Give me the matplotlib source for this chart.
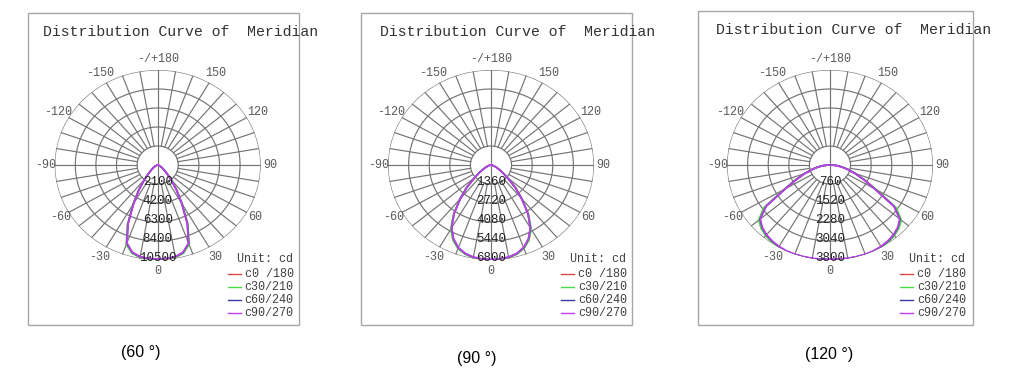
import numpy as np
import matplotlib.pyplot as plt
from matplotlib.patches import Rectangle

# vertical angle (deg from nadir), same for every C-plane
gamma = [0, 5, 10, 15, 20, 25, 30, 35, 40, 45, 50, 55, 60, 65, 70, 75, 80, 85, 90]

# 60 deg beam, cd
c0_60 = [10450, 10430, 10360, 10080, 9320, 7250, 5000, 3380, 2150, 1320, 860, 560, 370, 240, 150, 90, 50, 20, 0]
c30_60 = [10450, 10430, 10370, 10100, 9350, 7300, 5050, 3400, 2160, 1320, 860, 560, 370, 240, 150, 90, 50, 20, 0]
c60_60 = [10400, 10380, 10300, 10000, 9200, 7150, 4900, 3300, 2100, 1300, 850, 550, 360, 230, 140, 85, 45, 20, 0]
c90_60 = [10380, 10360, 10290, 9980, 9180, 7120, 4880, 3280, 2090, 1290, 840, 550, 360, 230, 140, 85, 45, 20, 0]

# 90 deg beam, cd
c0_90 = [6800, 6790, 6730, 6600, 6350, 5920, 5280, 4300, 3200, 2280, 1420, 920, 590, 380, 240, 140, 75, 30, 0]
c30_90 = [6800, 6790, 6730, 6600, 6360, 5930, 5300, 4320, 3200, 2280, 1420, 920, 590, 380, 240, 140, 75, 30, 0]
c60_90 = [6770, 6760, 6700, 6560, 6300, 5850, 5200, 4250, 3150, 2250, 1400, 900, 580, 370, 230, 135, 70, 30, 0]
c90_90 = [6760, 6750, 6690, 6550, 6290, 5840, 5190, 4240, 3140, 2240, 1400, 900, 580, 370, 230, 135, 70, 30, 0]

# 120 deg beam, cd
c0_120 = [3790, 3795, 3805, 3815, 3825, 3830, 3800, 3750, 3680, 3580, 3420, 2950, 1950, 1400, 990, 690, 450, 240, 40]
c30_120 = [3790, 3795, 3805, 3815, 3825, 3830, 3810, 3760, 3690, 3590, 3440, 2980, 1960, 1400, 990, 690, 450, 240, 40]
c60_120 = [3780, 3785, 3795, 3800, 3805, 3800, 3770, 3720, 3650, 3540, 3370, 2880, 1900, 1380, 980, 680, 440, 230, 40]
c90_120 = [3770, 3775, 3785, 3790, 3795, 3790, 3760, 3710, 3640, 3530, 3360, 2870, 1890, 1370, 970, 670, 430, 220, 40]

planes = ['c0 /180', 'c30/210', 'c60/240', 'c90/270']
plane_colors = ['#e04848', '#48dc48', '#3c3ca8', '#c040ec']

panels = [
    {'step': 2100, 'curves': [c0_60, c30_60, c60_60, c90_60], 'caption': '(60 °)'},
    {'step': 1360, 'curves': [c0_90, c30_90, c60_90, c90_90], 'caption': '(90 °)'},
    {'step': 760, 'curves': [c0_120, c30_120, c60_120, c90_120], 'caption': '(120 °)'},
]

tick_angles = [0, 30, 60, 90, 120, 150, 180, -150, -120, -90, -60, -30]
tick_text = ['0', '30', '60', '90', '120', '150', '-/+180', '-150', '-120', '-90', '-60', '-30']

W, H = 1030, 384
centers = [(157.7, 165), (491, 165), (830, 165)]
frames = [(28, 13, 299, 325), (361, 13, 632, 325), (698, 11, 973, 325)]
titles_xy = [(43, 32.5), (380, 32.5), (716, 30)]
captions_xy = [(141, 352), (477, 358), (829, 355)]
rx, ry = 103, 95


def fx(x):
    return x / W


def fy(y):
    return 1 - y / H


mono = 'Liberation Mono'
grid_col = '#747474'

fig = plt.figure(figsize=(W / 100, H / 100), dpi=100)

for i, p in enumerate(panels):
    cx, cy = centers[i]
    x0, y0, x1, y1 = frames[i]
    fig.patches.append(Rectangle((fx(x0), fy(y1)), fx(x1 - x0), (y1 - y0) / H,
                                 transform=fig.transFigure, fill=False,
                                 edgecolor='#a8a8a8', lw=1.0))

    ax = fig.add_axes([fx(cx - rx), fy(cy + ry), 2 * rx / W, 2 * ry / H], projection='polar')
    ax.set_aspect('auto')
    ax.set_theta_zero_location('S')
    ax.set_theta_direction(1)
    step = p['step']
    rmax = 5 * step
    ax.set_ylim(0, rmax)
    ax.set_xticks([])
    ax.set_yticks([])
    ax.grid(False)
    ax.spines['polar'].set_visible(False)
    ax.patch.set_alpha(0)

    # grid: circles, spokes every 10 deg starting at first ring
    full = np.linspace(0, 2 * np.pi, 400)
    for k in range(1, 6):
        ax.plot(full, np.full_like(full, k * step), color=grid_col, lw=0.85, zorder=1)
    for a in range(0, 360, 10):
        r0 = 0 if a in (0, 180) else step
        ax.plot([np.radians(a)] * 2, [r0, rmax], color=grid_col, lw=0.85, zorder=1)

    g = np.array(gamma)
    th = np.radians(np.concatenate([-g[::-1], g[1:]]))
    for vals, col in zip(p['curves'], plane_colors):
        v = np.array(vals)
        r = np.concatenate([v[::-1], v[1:]])
        ax.plot(th, r, color=col, lw=1.2, zorder=3)

    for a, t in zip(tick_angles, tick_text):
        f = 1.09 if abs(a) in (60, 90) else 1.12
        ax.text(np.radians(a), f * rmax, t, ha='center', va='center',
                fontsize=8.5, family=mono, color='#5a5a5a')
    for k in range(1, 6):
        ax.text(0, k * step - 0.1 * step, str(k * step), ha='center', va='center',
                fontsize=9, family=mono, color='#222222', zorder=4)

    tx, ty = titles_xy[i]
    fig.text(fx(tx), fy(ty), 'Distribution Curve of  Meridian', ha='left', va='center',
             fontsize=10.7, family=mono, color='#333333')

    fig.text(fx(cx + 79), fy(cy + 94), 'Unit: cd', ha='left', va='center',
             fontsize=8.5, family=mono, color='#404040')
    for j, (name, col) in enumerate(zip(planes, plane_colors)):
        yy = cy + 109 + 13 * j
        fig.add_artist(plt.Line2D([fx(cx + 70), fx(cx + 83)], [fy(yy), fy(yy)],
                                  transform=fig.transFigure, color=col, lw=1.0))
        fig.text(fx(cx + 87), fy(yy), name, ha='left', va='center',
                 fontsize=8.5, family=mono, color='#404040')

    kx, ky = captions_xy[i]
    fig.text(fx(kx), fy(ky), p['caption'], ha='center', va='center',
             fontsize=11.5, family='Liberation Sans', color='#000000')

fig.savefig('out.png', dpi=100)
